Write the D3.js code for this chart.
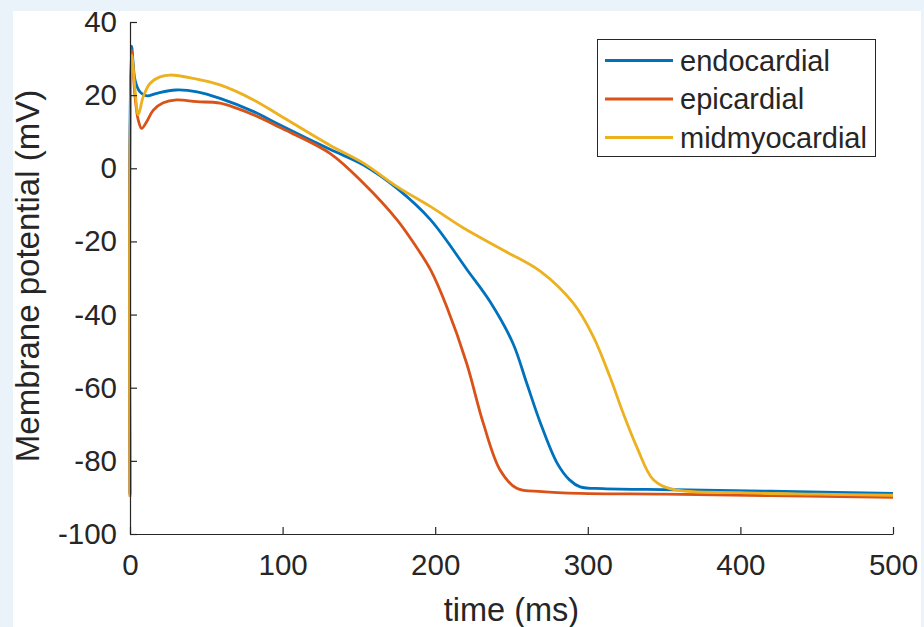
<!DOCTYPE html>
<html>
<head>
<meta charset="utf-8">
<script src="https://cdn.jsdelivr.net/npm/d3@7"></script>
<style>
  html, body { margin: 0; padding: 0; background: #eaf3fa; }
  svg { display: block; }
  text { font-family: "Liberation Sans", Arial, Helvetica, sans-serif; fill: #262626; }
</style>
</head>
<body>
<svg id="chart" width="924" height="627"></svg>
<script>
// ---- data (time in ms, membrane potential in mV) ----
const seriesNames = ["endocardial", "epicardial", "midmyocardial"];
const seriesColors = ["#0072BD", "#D95319", "#EDB120"];

const endoT = [0, 1, 3.3, 6.5, 11, 17.5, 30, 44, 59, 81, 98, 131, 153, 175, 197, 221, 236, 251, 260, 269, 280, 288, 295, 310, 356, 420, 500];
const endoV = [-89, 33.4, 24.1, 20.9, 19.8, 20.5, 21.4, 20.9, 19.1, 15.5, 11.9, 5.2, 0.9, -5.5, -14.1, -27.8, -36.5, -47.9, -58.8, -69.7, -80.7, -85.2, -87.1, -87.6, -87.9, -88.3, -88.9];

const epiT = [0, 1, 3.3, 5.4, 7.6, 10.9, 15.3, 21.8, 30.6, 43.7, 59, 81, 98, 131, 153, 175, 186, 197, 207.5, 220.6, 231.5, 242.5, 253.4, 270, 295, 350, 420, 500];
const epiV = [-89.5, 32.3, 19.6, 13.2, 10.9, 12.7, 15.9, 17.9, 18.7, 18.2, 17.8, 14.6, 11.2, 4.1, -4.1, -14.1, -20.5, -27.8, -37.8, -53.3, -69.7, -82.5, -87.5, -88.4, -88.9, -89.1, -89.5, -90];

const midT = [0, 1.1, 3.3, 5.4, 8.7, 13.1, 19.7, 26.2, 41.5, 59, 81, 98, 131, 153, 175, 197, 218, 245, 269, 290.5, 303.6, 314.5, 323.2, 332, 343, 356, 400, 450, 500];
const midV = [-89.9, 31, 21.4, 14.6, 19.6, 23.2, 25, 25.5, 24.6, 22.8, 18.7, 14.5, 6.3, 1.4, -5.0, -10.5, -16.2, -22.5, -28.2, -36.9, -46, -57, -67, -76.1, -85.2, -87.8, -88.7, -89.1, -89.4];

const xTicks = [0, 100, 200, 300, 400, 500];
const yTicks = [-100, -80, -60, -40, -20, 0, 20, 40];
const xLabel = "time (ms)";
const yLabel = "Membrane potential (mV)";

// ---- layout ----
const svg = d3.select("#chart");
svg.append("rect").attr("x", 13).attr("y", 11).attr("width", 908).attr("height", 620).attr("fill", "#ffffff");

const x = d3.scaleLinear().domain([0, 500]).range([130, 893]);
const y = d3.scaleLinear().domain([-100, 40]).range([534, 22]);

const seriesT = [endoT, epiT, midT];
const seriesV = [endoV, epiV, midV];

const line = d3.line().x(d => x(d[0])).y(d => y(d[1])).curve(d3.curveCatmullRom.alpha(0.5));

seriesNames.forEach((name, i) => {
  const pts = seriesT[i].map((t, j) => [t, seriesV[i][j]]);
  svg.append("path").datum(pts)
    .attr("d", line)
    .attr("fill", "none")
    .attr("stroke", seriesColors[i])
    .attr("stroke-width", 2.8)
    .attr("stroke-linejoin", "round");
});

// axes
const fmt = d => String(d);
const xAxis = d3.axisBottom(x).tickValues(xTicks).tickFormat(fmt).tickSizeInner(-7).tickSizeOuter(0).tickPadding(14);
const gx = svg.append("g").attr("transform", "translate(0,534)").call(xAxis);
gx.select(".domain").attr("stroke", "#262626").attr("stroke-width", 1.2);
gx.selectAll(".tick line").attr("stroke", "#262626").attr("stroke-width", 1.2);
gx.selectAll(".tick text").attr("font-size", 29.5).attr("fill", "#262626")
  .attr("font-family", "'Liberation Sans', Arial, sans-serif").attr("dy", "0.9em");

const yAxis = d3.axisLeft(y).tickValues(yTicks).tickFormat(fmt).tickSizeInner(-7).tickSizeOuter(0).tickPadding(13);
const gy = svg.append("g").attr("transform", "translate(130,0)").call(yAxis);
gy.select(".domain").attr("stroke", "#262626").attr("stroke-width", 1.2);
gy.selectAll(".tick line").attr("stroke", "#262626").attr("stroke-width", 1.2);
gy.selectAll(".tick text").attr("font-size", 29.5).attr("fill", "#262626")
  .attr("font-family", "'Liberation Sans', Arial, sans-serif");

// axis labels
svg.append("text").attr("x", 511.5).attr("y", 621).attr("text-anchor", "middle")
  .attr("font-size", 32.5).text(xLabel);
svg.append("text").attr("transform", "translate(39,276) rotate(-90)").attr("text-anchor", "middle")
  .attr("font-size", 33).text(yLabel);

// legend
const lg = svg.append("g");
lg.append("rect").attr("x", 597.5).attr("y", 39.5).attr("width", 278).attr("height", 117)
  .attr("fill", "#ffffff").attr("stroke", "#262626").attr("stroke-width", 1);
const rowY = [60.5, 99, 137.5];
seriesNames.forEach((name, i) => {
  lg.append("line").attr("x1", 605).attr("x2", 673).attr("y1", rowY[i]).attr("y2", rowY[i])
    .attr("stroke", seriesColors[i]).attr("stroke-width", 2.8);
  lg.append("text").attr("x", 680).attr("y", rowY[i]).attr("dy", "0.35em")
    .attr("font-size", 29).text(name);
});
</script>
</body>
</html>
